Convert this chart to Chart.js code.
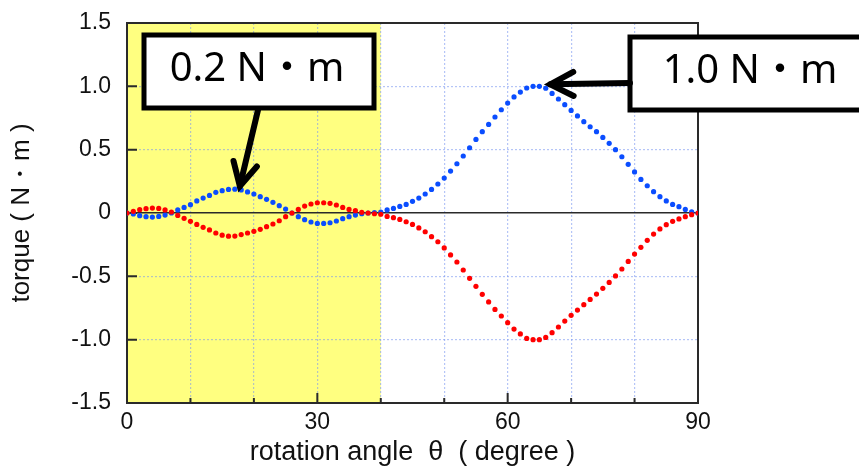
<!DOCTYPE html>
<html lang="en">
<head>
<meta charset="UTF-8">
<title>torque vs rotation angle</title>
<script src="https://cdn.jsdelivr.net/npm/chart.js@4.4.0/dist/chart.umd.min.js"></script>
<style>
  html, body { margin: 0; padding: 0; background: #fff; }
  #wrap { width: 859px; height: 470px; }
</style>
</head>
<body>
<div id="wrap"><canvas id="torque-chart"></canvas></div>
<script>

    // rotation angle (degree), one sample per degree
    const angles = [
        0, 1, 2, 3, 4, 5, 6, 7, 8, 9, 10, 11, 12, 13, 14, 15, 16, 17, 18, 19,
        20, 21, 22, 23, 24, 25, 26, 27, 28, 29, 30, 31, 32, 33, 34, 35, 36, 37, 38, 39,
        40, 41, 42, 43, 44, 45, 46, 47, 48, 49, 50, 51, 52, 53, 54, 55, 56, 57, 58, 59,
        60, 61, 62, 63, 64, 65, 66, 67, 68, 69, 70, 71, 72, 73, 74, 75, 76, 77, 78, 79,
        80, 81, 82, 83, 84, 85, 86, 87, 88, 89, 90
    ];

    // torque (N·m), blue series
    const torqueBlue = [
        0, -0.008, -0.021, -0.029, -0.032, -0.027, -0.016, 0.000, 0.024, 0.044,
        0.066, 0.095, 0.118, 0.139, 0.163, 0.176, 0.186, 0.188, 0.182, 0.166,
        0.150, 0.129, 0.108, 0.084, 0.058, 0.031, 0.000, -0.029, -0.053, -0.071,
        -0.082, -0.082, -0.077, -0.063, -0.045, -0.029, -0.016, -0.006, 0.000, 0.004,
        0.008, 0.024, 0.036, 0.052, 0.068, 0.092, 0.118, 0.150, 0.186, 0.229,
        0.276, 0.331, 0.389, 0.450, 0.515, 0.581, 0.642, 0.699, 0.758, 0.815,
        0.868, 0.916, 0.955, 0.987, 1.000, 1.000, 0.985, 0.944, 0.900, 0.855,
        0.810, 0.766, 0.721, 0.681, 0.642, 0.597, 0.550, 0.500, 0.444, 0.384,
        0.324, 0.265, 0.215, 0.168, 0.129, 0.095, 0.068, 0.050, 0.028, 0.010,
        0
    ];

    // torque (N·m), red series
    const torqueRed = [
        0, 0.013, 0.026, 0.034, 0.039, 0.036, 0.024, 0.008, -0.019, -0.042,
        -0.066, -0.090, -0.113, -0.134, -0.158, -0.175, -0.183, -0.182, -0.170, -0.158,
        -0.145, -0.129, -0.108, -0.087, -0.061, -0.029, 0.000, 0.028, 0.055, 0.071,
        0.081, 0.081, 0.076, 0.063, 0.044, 0.028, 0.018, 0.005, 0.000, -0.006,
        -0.010, -0.027, -0.037, -0.051, -0.069, -0.090, -0.118, -0.148, -0.187, -0.227,
        -0.276, -0.331, -0.387, -0.450, -0.516, -0.579, -0.642, -0.702, -0.761, -0.813,
        -0.866, -0.916, -0.955, -0.990, -1.000, -1.000, -0.982, -0.945, -0.900, -0.853,
        -0.808, -0.766, -0.724, -0.682, -0.640, -0.595, -0.548, -0.497, -0.442, -0.382,
        -0.324, -0.271, -0.216, -0.166, -0.126, -0.092, -0.066, -0.047, -0.029, -0.013,
        0
    ];

    const xLabelled = [0, 30, 60, 90];
    const shadedRange = [0, 40];

    // callouts: text, which point the arrow points at
    const callouts = [
        { text: '0.2 N・m', series: torqueBlue, index: 17, box: [144, 35, 230, 73], textX: 257, from: [258, 110], tipOffset: [5, -3] },
        { text: '1.0 N・m', series: torqueBlue, index: 65, box: [630, 37, 300, 73], textX: 750, from: [630, 83], tipOffset: [11, -2] }
    ];

    function points(ys) {
        return angles.map((a, i) => ({ x: a, y: ys[i] }));
    }

    // fixed axis box sizes, no extra room for overhanging labels
    function fixSize(prop, size) {
        return s => {
            s[prop] = size;
            s.paddingTop = s.paddingBottom = s.paddingLeft = s.paddingRight = 0;
        };
    }

    const frame = {
        id: 'frame',
        beforeDraw(chart) {
            const { ctx, chartArea: a, scales: { x } } = chart;
            ctx.save();
            ctx.fillStyle = '#fff';
            ctx.fillRect(0, 0, chart.width, chart.height);
            ctx.fillStyle = '#ffff80';
            const x0 = x.getPixelForValue(shadedRange[0]);
            const x1 = x.getPixelForValue(shadedRange[1]);
            ctx.fillRect(x0, a.top, x1 - x0, a.bottom - a.top);
            ctx.restore();
        },
        beforeDatasetsDraw(chart) {
            const { ctx, chartArea: a, scales: { x, y } } = chart;
            ctx.save();
            ctx.strokeStyle = '#2a2a2a';
            ctx.lineWidth = 2;
            ctx.strokeRect(a.left, a.top, a.right - a.left, a.bottom - a.top);
            // inward tick marks
            ctx.beginPath();
            x.ticks.forEach(t => {
                const px = x.getPixelForValue(t.value);
                const len = xLabelled.includes(t.value) ? 10 : 5;
                ctx.moveTo(px, a.bottom);
                ctx.lineTo(px, a.bottom - len);
            });
            y.ticks.forEach(t => {
                const py = y.getPixelForValue(t.value);
                ctx.moveTo(a.left, py);
                ctx.lineTo(a.left + 10, py);
            });
            ctx.stroke();
            ctx.restore();
        },
        afterDatasetsDraw(chart) {
            const { ctx, scales: { x, y } } = chart;
            ctx.save();
            ctx.strokeStyle = '#000';
            callouts.forEach(c => {
                const [bx, by, bw, bh] = c.box;
                ctx.fillStyle = '#fff';
                ctx.fillRect(bx, by, bw, bh);
                ctx.lineWidth = 5;
                ctx.lineJoin = 'miter';
                ctx.strokeRect(bx, by, bw, bh);

                ctx.fillStyle = '#000';
                ctx.font = '40px "Noto Sans", "Noto Sans CJK JP", sans-serif';
                ctx.textAlign = 'center';
                ctx.textBaseline = 'middle';
                ctx.fillText(c.text, c.textX, by + bh / 2 - 2);

                const tx = x.getPixelForValue(angles[c.index]) + c.tipOffset[0];
                const ty = y.getPixelForValue(c.series[c.index]) + c.tipOffset[1];
                const [fx, fy] = c.from;
                const ang = Math.atan2(fy - ty, fx - tx);
                const head = 26, spread = 0.48;
                ctx.lineWidth = 6;
                ctx.lineCap = 'round';
                ctx.beginPath();
                ctx.moveTo(fx, fy);
                ctx.lineTo(tx, ty);
                ctx.stroke();
                ctx.beginPath();
                ctx.moveTo(tx + head * Math.cos(ang + spread), ty + head * Math.sin(ang + spread));
                ctx.lineTo(tx, ty);
                ctx.lineTo(tx + head * Math.cos(ang - spread), ty + head * Math.sin(ang - spread));
                ctx.stroke();
            });
            ctx.restore();
        }
    };

    const gridBlue = 'rgba(120,150,240,0.55)';
    const tickFont = { family: '"Liberation Sans", Arial, sans-serif', size: 23 };
    const titleFont = { family: '"Liberation Sans", Arial, sans-serif', size: 27 };

    new Chart(document.getElementById('torque-chart'), {
        type: 'scatter',
        data: {
            datasets: [
                {
                    label: 'red',
                    data: points(torqueRed),
                    backgroundColor: '#ff0000',
                    borderWidth: 0,
                    pointRadius: 2.6,
                    order: 0
                },
                {
                    label: 'blue',
                    data: points(torqueBlue),
                    backgroundColor: '#0a4dff',
                    borderWidth: 0,
                    pointRadius: 2.6,
                    order: 1
                }
            ]
        },
        options: {
            responsive: true,
            maintainAspectRatio: false,
            animation: false,
            layout: { padding: { top: 23, right: 161, left: 0, bottom: 0 } },
            plugins: {
                legend: { display: false },
                tooltip: { enabled: false }
            },
            scales: {
                x: {
                    type: 'linear',
                    min: 0,
                    max: 90,
                    afterFit: fixSize('height', 67),
                    ticks: {
                        stepSize: 10,
                        padding: 6,
                        color: '#111',
                        font: tickFont,
                        maxRotation: 0,
                        callback: v => xLabelled.includes(v) ? String(v) : ''
                    },
                    grid: {
                        drawTicks: false,
                        color: gridBlue,
                        lineWidth: 1.2
                    },
                    border: { display: false, dash: [2, 2] },
                    title: {
                        display: true,
                        text: 'rotation angle  θ  ( degree )',
                        color: '#111',
                        font: titleFont,
                        padding: { top: 0, bottom: 1 }
                    }
                },
                y: {
                    min: -1.5,
                    max: 1.5,
                    afterFit: fixSize('width', 127),
                    ticks: {
                        stepSize: 0.5,
                        padding: 16,
                        color: '#111',
                        font: tickFont,
                        callback: v => v === 0 ? '0' : v.toFixed(1)
                    },
                    grid: {
                        drawTicks: false,
                        color: c => c.tick && c.tick.value === 0 ? '#2a2a2a' : gridBlue,
                        lineWidth: c => c.tick && c.tick.value === 0 ? 1.6 : 1.2
                    },
                    border: {
                        display: false,
                        dash: c => (c.type === 'tick' && c.tick.value !== 0) ? [2, 2] : []
                    },
                    title: {
                        display: true,
                        text: 'torque ( N・m )',
                        color: '#111',
                        font: { family: '"Liberation Sans", Arial, sans-serif', size: 26 },
                        padding: { top: 6, bottom: 0 }
                    }
                }
            }
        },
        plugins: [frame]
    });
</script>
</body>
</html>
